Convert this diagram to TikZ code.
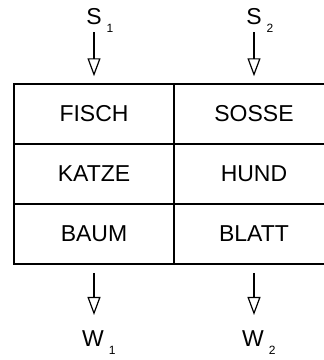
\documentclass[tikz,border=0pt]{standalone}
\usepackage{fontspec}
\setmainfont{Liberation Sans}
\usetikzlibrary{arrows.meta}
\tikzset{
  cell/.style={draw=black, line width=1.5bp, minimum width=160bp, minimum height=60bp,
    inner sep=0pt, font=\fontsize{23bp}{27bp}\selectfont},
  lbl/.style={inner sep=0pt, anchor=base, font=\fontsize{23bp}{27bp}\selectfont},
  arr/.style={line width=1.2bp, -{Triangle[open, length=18bp, width=13bp, line width=1.2bp]}},
}
\newcommand{\subidx}[1]{\rlap{\raisebox{-8bp}[0pt][0pt]{\hspace{5bp}\fontsize{12bp}{14bp}\selectfont #1}}}
\begin{document}
\begin{tikzpicture}[x=1bp, y=-1bp]
\useasboundingbox (0,0) rectangle (324,360);
\clip (0,0) rectangle (324,360);
\node[cell] (f) at (94,114) {FISCH};
\node[cell] (s) at (254,114) {SOSSE};
\node[cell] (k) at (94,174) {KATZE};
\node[cell] (h) at (254,174) {HUND};
\node[cell] (b) at (94,234) {BAUM};
\node[cell] (l) at (254,234) {BLATT};
\node[lbl] (s1) at (94,24) {S\subidx{1}};
\node[lbl] (s2) at (254,24) {S\subidx{2}};
\node[lbl] (w1) at (93,346) {W\subidx{1}};
\node[lbl] (w2) at (253,346) {W\subidx{2}};
\draw[arr, shorten <=8bp, shorten >=7bp] (s1.south) -- (f.north);
\draw[arr, shorten <=8bp, shorten >=15bp] (b.south) -- (b.south |- w1.north);
\draw[arr, shorten <=8bp, shorten >=7bp] (s2.south) -- (s.north);
\draw[arr, shorten <=8bp, shorten >=15bp] (l.south) -- (l.south |- w2.north);
\end{tikzpicture}
\end{document}
